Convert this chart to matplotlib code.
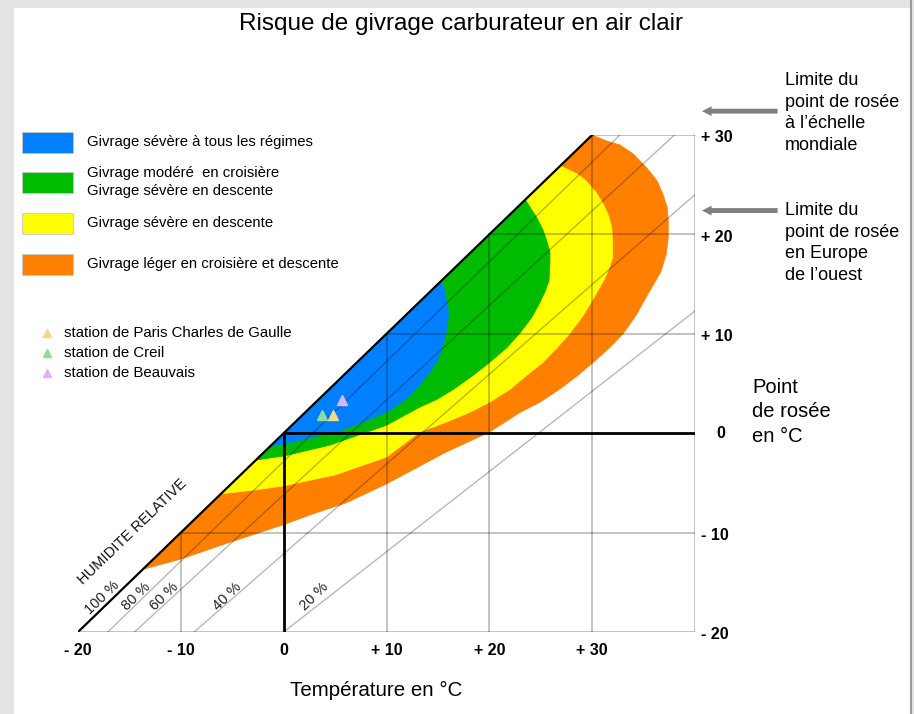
import matplotlib.pyplot as plt
from matplotlib.patches import Polygon, Rectangle

plt.rcParams['font.family'] = ['Liberation Sans', 'DejaVu Sans']

W, H = 914, 714

# ── Icing zones: outer boundary (temperature, dew point), from the 100 % line
#    at the top, round the curve, back to the 100 % line at the lower tip ──
orange_t  = [30, 31.4, 32.7, 34.0, 35.3, 36.3, 36.9, 37.3, 37.4, 37.4, 37.2,
             36.7, 36.0, 35.2, 34.3, 33.0, 31.8, 30.3, 28.6, 26.8, 24.9, 23.0,
             20.0, 15.8, 10.0, 6.1, 2.9, 0.0, -5.3, -10.1, -13.7]
orange_td = [30, 29.4, 29.0, 28.1, 26.7, 25.4, 24.0, 22.7, 21.4, 19.7, 18.0,
             16.3, 15.0, 13.6, 11.9, 10.0, 8.7, 7.3, 5.8, 4.4, 3.1, 2.1,
             0.1, -1.9, -5.1, -7.0, -8.1, -9.2, -11.0, -12.7, -13.7]

yellow_t  = [26.9, 28.5, 29.4, 30.4, 31.1, 31.6, 31.9, 32.0, 32.0, 31.7, 31.2,
             30.1, 29.1, 27.8, 26.5, 25.2, 23.6, 22.0, 20.0, 18.1, 15.8, 13.2,
             10.0, 5.0, 0.0, -2.7, -6.1]
yellow_td = [26.9, 26.1, 25.4, 24.2, 23.0, 21.9, 20.7, 19.0, 17.7, 16.7, 15.5,
             13.5, 11.8, 10.0, 8.5, 7.1, 5.8, 4.4, 3.1, 2.1, 1.1, 0.1,
             -2.4, -4.2, -5.3, -5.7, -6.1]

green_t   = [23.5, 24.1, 24.6, 25.2, 25.6, 25.9, 25.9, 25.8, 25.4, 24.9, 24.1,
             23.0, 21.7, 20.0, 18.4, 16.5, 14.9, 13.2, 10.0, 4.5, 0.0, -2.7]
green_td  = [23.5, 22.5, 21.7, 20.5, 19.3, 18.2, 17.0, 15.3, 14.2, 13.1, 11.6,
             10.1, 8.6, 7.1, 5.8, 4.4, 3.4, 2.6, 0.8, -1.2, -2.3, -2.7]

blue_t    = [15.3, 15.7, 15.8, 16.0, 16.0, 15.8, 15.5, 15.0, 14.2, 13.2, 11.9,
             10.0, 7.7, 5.4, 0.0, -1.3]
blue_td   = [15.3, 14.3, 13.5, 12.5, 11.5, 10.1, 8.8, 7.4, 6.1, 4.8, 3.4,
             2.1, 1.1, 0.2, -1.1, -1.3]

zone_labels = ["Givrage sévère à tous les régimes",
               "Givrage modéré  en croisière\nGivrage sévère en descente",
               "Givrage sévère en descente",
               "Givrage léger en croisière et descente"]

# ── Relative humidity lines (start point, end point) ──
rh_labels  = ["100 %", "80 %", "60 %", "40 %", "20 %"]
rh_t0      = [-20, -17.1, -14.5, -8.7, 0.0]
rh_td0     = [-20, -20, -20, -20, -20]
rh_t1      = [30, 32.7, 38.0, 40, 40]
rh_td1     = [30, 30, 30, 24.0, 12.3]

# ── Stations ──
station_names = ["station de Paris Charles de Gaulle", "station de Creil",
                 "station de Beauvais"]
station_t     = [4.8, 3.7, 5.7]
station_td    = [1.8, 1.8, 3.3]

x_ticks  = [-20, -10, 0, 10, 20, 30]
x_labels = ["- 20", "- 10", "0", "+ 10", "+ 20", "+ 30"]
y_ticks  = [30, 20, 10, 0, -10, -20]
y_labels = ["+ 30", "+ 20", "+ 10", "0", "- 10", "- 20"]

dewpoint_limits = [32.4, 22.4]
limit_texts = ["Limite du\npoint de rosée\nà l’échelle\nmondiale",
               "Limite du\npoint de rosée\nen Europe\nde l’ouest"]

BLUE, GREEN, YELLOW, ORANGE = "#0080ff", "#00bb00", "#ffff00", "#ff8000"
STATION_COLORS = ["#f0d88c", "#8edc9c", "#dcb6ee"]
GRID = (0, 0, 0, 0.28)


def fx(px):
    return px / W


def fy(py):
    return 1 - py / H


fig = plt.figure(figsize=(W / 100, H / 100), dpi=100, facecolor="#e4e4e4")
fig.patches.append(Rectangle((fx(14), 0), fx(896), fy(8), transform=fig.transFigure,
                             facecolor="white", edgecolor="none", zorder=-5))
fig.add_artist(plt.Line2D([fx(911), fx(911)], [0, 1], color="#9a9a9a", lw=1.5))

ax = fig.add_axes([fx(78), fy(632), fx(617), 497 / H])
ax.set_xlim(-20, 40)
ax.set_ylim(-20, 30)
ax.axis("off")
ax.patch.set_alpha(0)

# zones, largest first
for zt, ztd, col in [(orange_t, orange_td, ORANGE), (yellow_t, yellow_td, YELLOW),
                     (green_t, green_td, GREEN), (blue_t, blue_td, BLUE)]:
    ax.add_patch(Polygon(list(zip(zt, ztd)), closed=True, facecolor=col,
                         edgecolor=col, lw=0.5, joinstyle="round", zorder=1))

# grid clipped to the area below the saturation line
for v in [-10, 10, 20, 30, 40]:
    ax.plot([v, v], [-20, min(v, 30)], color=GRID, lw=1.2, zorder=2)
for h in [-20, -10, 10, 20, 30]:
    ax.plot([h, 40], [h, h], color=GRID, lw=1.2, zorder=2)

# relative humidity lines
for i in range(1, len(rh_labels)):
    ax.plot([rh_t0[i], rh_t1[i]], [rh_td0[i], rh_td1[i]], color=GRID, lw=1.0, zorder=2)
ax.plot([rh_t0[0], rh_t1[0]], [rh_td0[0], rh_td1[0]], color="black", lw=1.6, zorder=3)

# 0 °C axes
ax.plot([0, 0], [-20, 0], color="black", lw=2, zorder=3)
ax.plot([0, 40], [0, 0], color="black", lw=2, zorder=3)

# rh labels
rh_label_pos = [(-17.6, -16.5), (-14.3, -16.4), (-11.6, -16.4), (-5.5, -16.4), (3.0, -16.4)]
for lab, (lx, ly) in zip(rh_labels, rh_label_pos):
    ax.text(lx, ly, lab, rotation=44, ha="center", va="center", fontsize=10.5,
            color="#222222", clip_on=False)
ax.text(-14.7, -9.9, "HUMIDITE RELATIVE", rotation=44, ha="center", va="center",
        fontsize=10.5, color="#111111", clip_on=False)

# stations
for t, td, col in zip(station_t, station_td, STATION_COLORS):
    ax.plot(t, td, marker="^", color=col, markersize=7, ls="none", zorder=4)

# tick labels
for v, lab in zip(x_ticks, x_labels):
    ax.text(v, -21.9, lab, ha="center", va="center", fontsize=11.5,
            fontweight="bold", clip_on=False)
for v, lab in zip(y_ticks, y_labels):
    if lab == "0":
        ax.text(42.5, v, lab, ha="center", va="center", fontsize=11.5,
                fontweight="bold", clip_on=False)
    else:
        ax.text(40.6, v - 0.3, lab, ha="left", va="center", fontsize=11.5,
                fontweight="bold", clip_on=False)

# title and axis names
fig.text(fx(461), fy(24), "Risque de givrage carburateur en air clair",
         ha="center", va="center", fontsize=17.5)
fig.text(fx(376), fy(690), "Température en °C", ha="center", va="center", fontsize=14.8)
fig.text(fx(752), fy(412), "Point\nde rosée\nen °C", ha="left", va="center",
         fontsize=14.5, linespacing=1.34)

# dew point limits
for td_lim, txt, ty in zip(dewpoint_limits, limit_texts, [113, 243]):
    ax.annotate("", xy=(40.4, td_lim), xytext=(48.3, td_lim), annotation_clip=False,
                arrowprops=dict(arrowstyle="simple,head_length=0.7,head_width=0.7,tail_width=0.35",
                                color="#808080", lw=0))
    fig.text(fx(785), fy(ty), txt, ha="left", va="center", fontsize=13, linespacing=1.37)

# zone legend
for (py, col), lab, ly in zip([(132, BLUE), (172, GREEN), (213, YELLOW), (254, ORANGE)],
                              zone_labels, [142, 182, 223, 264]):
    fig.patches.append(Rectangle((fx(22), fy(py + 21)), fx(51), 21 / H,
                                 transform=fig.transFigure, facecolor=col,
                                 edgecolor="#c8c8c8", lw=0.6))
    fig.text(fx(87), fy(ly), lab, ha="left", va="center", fontsize=10.7, linespacing=1.45)

# station legend
for i, (name, col) in enumerate(zip(station_names, STATION_COLORS)):
    yy = 333 + 20 * i
    fig.add_artist(plt.Line2D([fx(47)], [fy(yy)], marker="^", color=col, markersize=6,
                              ls="none"))
    fig.text(fx(64), fy(yy), name, ha="left", va="center", fontsize=10.8)

fig.savefig("out.png", dpi=100, facecolor=fig.get_facecolor())
